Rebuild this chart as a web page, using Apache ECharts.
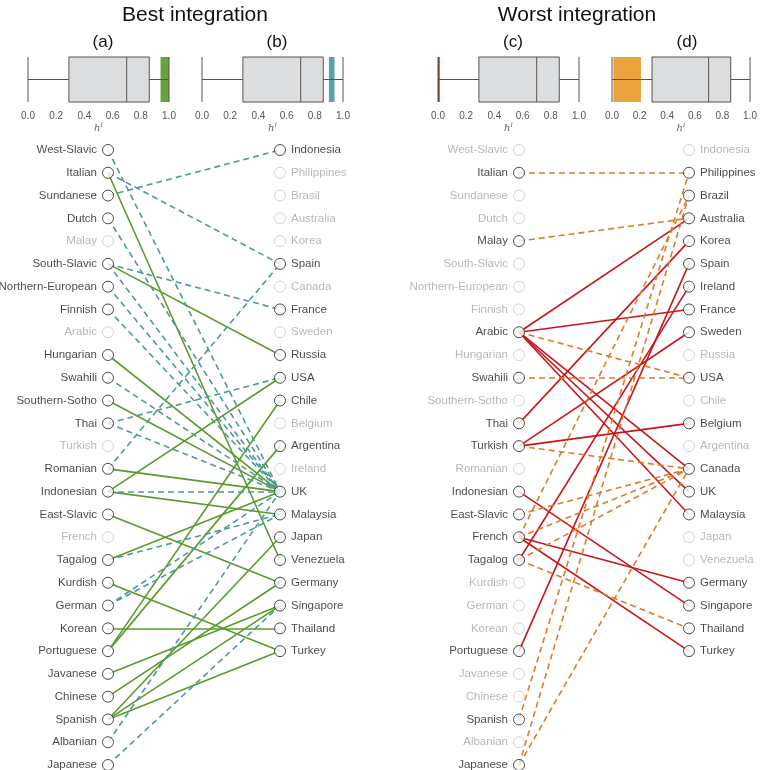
<!DOCTYPE html>
<html><head><meta charset="utf-8">
<script src="https://cdn.jsdelivr.net/npm/echarts@6/dist/echarts.min.js"></script>
<style>html,body{margin:0;padding:0;background:#fff}#c{width:760px;height:770px}</style>
</head><body><div id="c"></div>
<script>
// ---------- data ----------
const languages = ['West-Slavic','Italian','Sundanese','Dutch','Malay','South-Slavic','Northern-European','Finnish','Arabic','Hungarian','Swahili','Southern-Sotho','Thai','Turkish','Romanian','Indonesian','East-Slavic','French','Tagalog','Kurdish','German','Korean','Portuguese','Javanese','Chinese','Spanish','Albanian','Japanese'];
const countriesBest = ['Indonesia','Philippines','Brasil','Australia','Korea','Spain','Canada','France','Sweden','Russia','USA','Chile','Belgium','Argentina','Ireland','UK','Malaysia','Japan','Venezuela','Germany','Singapore','Thailand','Turkey'];
const countriesWorst = ['Indonesia','Philippines','Brazil','Australia','Korea','Spain','Ireland','France','Sweden','Russia','USA','Chile','Belgium','Argentina','Canada','UK','Malaysia','Japan','Venezuela','Germany','Singapore','Thailand','Turkey'];

// (a) best integration, solid links
const bestSolid = [['Italian','Venezuela'],['South-Slavic','Russia'],['Hungarian','UK'],['Southern-Sotho','UK'],['Romanian','UK'],['Indonesian','USA'],['Indonesian','Malaysia'],['East-Slavic','Germany'],['Tagalog','UK'],['Kurdish','Turkey'],['Korean','Thailand'],['Portuguese','Chile'],['Portuguese','Argentina'],['Javanese','Singapore'],['Chinese','Germany'],['Spanish','Japan'],['Spanish','Singapore'],['Spanish','Turkey']];
// (b) best integration, dashed links
const bestDashed = [['West-Slavic','UK'],['Italian','Spain'],['Sundanese','Indonesia'],['Dutch','UK'],['South-Slavic','France'],['South-Slavic','UK'],['Northern-European','UK'],['Finnish','UK'],['Swahili','UK'],['Thai','USA'],['Thai','UK'],['Romanian','Spain'],['Indonesian','UK'],['Tagalog','Malaysia'],['German','UK'],['German','Malaysia'],['Albanian','UK'],['Japanese','Singapore']];
// (c) worst integration, solid links
const worstSolid = [['Arabic','Australia'],['Arabic','France'],['Arabic','Canada'],['Arabic','UK'],['Arabic','Malaysia'],['Thai','Korea'],['Turkish','Sweden'],['Turkish','Belgium'],['Indonesian','Singapore'],['French','Germany'],['French','Turkey'],['Tagalog','Ireland'],['Portuguese','Spain']];
// (d) worst integration, dashed links
const worstDashed = [['Italian','Philippines'],['Malay','Australia'],['Arabic','USA'],['Swahili','USA'],['Turkish','Canada'],['East-Slavic','Canada'],['French','Canada'],['French','Brazil'],['Tagalog','Canada'],['Tagalog','Thailand'],['Spanish','Philippines'],['Japanese','Brazil'],['Japanese','Canada']];

// box plots of h^I : [min, Q1, median, Q3, max]
const boxStats = [0, 0.29, 0.70, 0.86, 1.0];
// highlighted h^I range in each panel
const highlightA = [0.94, 1.0];
const highlightB = [0.90, 0.94];
const highlightC = [0.0, 0.012];
const highlightD = [0.01, 0.21];
const tickValues = [0, 0.2, 0.4, 0.6, 0.8, 1.0];

// ---------- styling ----------
const GREEN = '#5b9a2c', TEAL = '#4f9999', RED = '#c8161c', ORANGE = '#e07a26';
const BAR_GREEN = '#5a9b2a', BAR_TEAL = '#4e9a9a', BAR_RED = '#9c1c12', BAR_ORANGE = '#e99b2c';
const FONT = 'Liberation Sans, Arial, Helvetica, sans-serif';

const chart = echarts.init(document.getElementById('c'), null, {renderer: 'canvas'});

const boxLefts = [28, 202, 438, 612];
const highlights = [[highlightA, BAR_GREEN], [highlightB, BAR_TEAL], [highlightC, BAR_RED], [highlightD, BAR_ORANGE]];

const grids = [], xAxes = [], yAxes = [], series = [];
boxLefts.forEach((l, i) => {
  grids.push({left: l, width: 141, top: 57, height: 45});
  xAxes.push({
    gridIndex: i, type: 'value', min: 0, max: 1, interval: 0.2,
    axisLine: {show: false}, axisTick: {show: false}, splitLine: {show: false},
    axisLabel: {formatter: v => v.toFixed(1), fontSize: 10, color: '#555', margin: 9, fontFamily: FONT},
    name: '{h|h}{s|I}', nameLocation: 'middle', nameGap: 20,
    nameTextStyle: {rich: {
      h: {fontSize: 10, fontStyle: 'italic', fontFamily: 'DejaVu Serif', color: '#666'},
      s: {fontSize: 6, fontStyle: 'italic', fontFamily: 'DejaVu Serif', color: '#666', verticalAlign: 'top', padding: [0,0,6,0]}
    }}
  });
  yAxes.push({gridIndex: i, type: 'category', data: ['h'], show: false});
  series.push({
    type: 'boxplot', xAxisIndex: i, yAxisIndex: i,
    data: [boxStats], boxWidth: [45, 45], z: 3,
    itemStyle: {color: '#dcdddf', borderColor: '#555', borderWidth: 1},
    emphasis: {disabled: true}, silent: true,
    markArea: {silent: true, z: 1, itemStyle: {color: highlights[i][1], opacity: 0.92},
      data: [[{xAxis: highlights[i][0][0]}, {xAxis: highlights[i][0][1]}]]}
  });
});

// bipartite panels
const panels = [
  {left: 108, width: 172, countries: countriesBest, solid: bestSolid, dashed: bestDashed, cs: GREEN, cd: TEAL},
  {left: 519, width: 170, countries: countriesWorst, solid: worstSolid, dashed: worstDashed, cs: RED, cd: ORANGE}
];
panels.forEach((p, k) => {
  const gi = 4 + k;
  grids.push({left: p.left, width: p.width, top: 150, height: 615});
  xAxes.push({gridIndex: gi, type: 'value', min: 0, max: 1, show: false});
  yAxes.push({gridIndex: gi, type: 'value', min: 0, max: 27, inverse: true, show: false});
  const all = p.solid.concat(p.dashed);
  const usedL = new Set(all.map(e => e[0]));
  const usedC = new Set(all.map(e => e[1]));
  const link = e => ({coords: [[0, languages.indexOf(e[0])], [1, p.countries.indexOf(e[1])]]});
  [[p.solid, p.cs, 'solid'], [p.dashed, p.cd, [6, 4]]].forEach(([edges, col, type]) => {
    series.push({
      type: 'lines', coordinateSystem: 'cartesian2d', xAxisIndex: gi, yAxisIndex: gi,
      data: edges.map(link), silent: true, z: 2,
      lineStyle: {color: col, width: 1.6, type: type, opacity: 1, cap: 'butt'}
    });
  });
  const node = (name, x, y, on, pos) => ({
    value: [x, y], name: name,
    itemStyle: {color: '#fff', borderColor: on ? '#222' : '#c9c9c9', borderWidth: 1},
    label: {show: true, position: pos, distance: 5, formatter: name, color: on ? '#1a1a1a' : '#a6a6a6', fontSize: 11.5, fontFamily: FONT}
  });
  series.push({
    type: 'scatter', xAxisIndex: gi, yAxisIndex: gi, symbol: 'circle', symbolSize: 11, z: 5, clip: false, silent: true,
    data: languages.map((n, i) => node(n, 0, i, usedL.has(n), 'left'))
  });
  series.push({
    type: 'scatter', xAxisIndex: gi, yAxisIndex: gi, symbol: 'circle', symbolSize: 11, z: 5, clip: false, silent: true,
    data: p.countries.map((n, i) => node(n, 1, i, usedC.has(n), 'right'))
  });
});

const titleStyle = (s) => ({fontSize: s, fontWeight: 'normal', color: '#111', fontFamily: FONT});
chart.setOption({
  animation: false,
  title: [
    {text: 'Best integration', left: 190, top: 0, textAlign: 'center', textStyle: titleStyle(21)},
    {text: 'Worst integration', left: 572, top: 0, textAlign: 'center', textStyle: titleStyle(21)},
    {text: '(a)', left: 98, top: 29, textAlign: 'center', textStyle: titleStyle(17)},
    {text: '(b)', left: 272, top: 29, textAlign: 'center', textStyle: titleStyle(17)},
    {text: '(c)', left: 508, top: 29, textAlign: 'center', textStyle: titleStyle(17)},
    {text: '(d)', left: 682, top: 29, textAlign: 'center', textStyle: titleStyle(17)}
  ],
  grid: grids, xAxis: xAxes, yAxis: yAxes, series: series
});
</script></body></html>
